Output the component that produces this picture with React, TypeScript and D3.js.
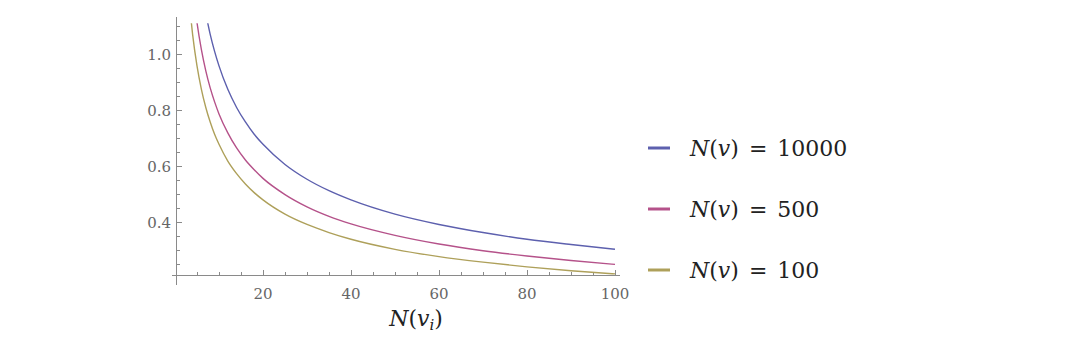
import React from 'react'
import * as d3 from 'd3'

// values, per curve: [N(v_i), value]
const seriesLabels = ['10000', '500', '100']
const seriesColors = ['#5d60ae', '#b5528a', '#aea05a']

const n10000 = [[7, 1.147], [8, 1.073], [9, 1.012], [10, 0.96], [12, 0.876], [14, 0.811], [16, 0.759], [18, 0.715], [20, 0.679], [25, 0.607], [30, 0.554], [35, 0.513], [40, 0.48], [50, 0.429], [60, 0.392], [70, 0.363], [80, 0.339], [90, 0.32], [100, 0.303]]
const n500 = [[4.5, 1.175], [5, 1.115], [6, 1.018], [7, 0.942], [8, 0.881], [9, 0.831], [10, 0.788], [12, 0.72], [14, 0.666], [16, 0.623], [18, 0.588], [20, 0.557], [25, 0.499], [30, 0.455], [35, 0.421], [40, 0.394], [50, 0.353], [60, 0.322], [70, 0.298], [80, 0.279], [90, 0.263], [100, 0.249]]
const n100 = [[3.5, 1.147], [4, 1.073], [5, 0.96], [6, 0.876], [7, 0.811], [8, 0.759], [9, 0.715], [10, 0.679], [12, 0.619], [14, 0.574], [16, 0.537], [18, 0.506], [20, 0.48], [25, 0.429], [30, 0.392], [35, 0.363], [40, 0.339], [50, 0.303], [60, 0.277], [70, 0.257], [80, 0.24], [90, 0.226], [100, 0.215]]
const series = [n10000, n500, n100]

const xTicks = [20, 40, 60, 80, 100]
const yTicks = [0.4, 0.6, 0.8, 1.0]

const W = 1080
const H = 351

export default function App() {
  const x = d3.scaleLinear().domain([0, 100]).range([175, 615])
  const y = d3.scaleLinear().domain([0.211, 1.135]).range([275, 17])

  const line = d3.line<number[]>()
    .x(d => x(d[0]))
    .y(d => y(d[1]))
    .curve(d3.curveMonotoneX)

  const xMinor = d3.range(5, 101, 5).filter(v => v % 20 !== 0)
  const yMinor = d3.range(0.25, 1.13, 0.05).filter(v => Math.abs(v * 5 - Math.round(v * 5)) > 1e-6)

  const axisX = x(0.45)
  const axisY = y(0.211)
  const tickColor = '#8a8a8a'
  const labelColor = '#666'
  const mathFont = '"DejaVu Serif", serif'

  const legendX = 648
  const legendY = [148, 209, 270]

  return (
    <div>
      <style>{'body{margin:0}'}</style>
      <svg width={W} height={H} style={{ display: 'block', background: '#fff' }}>
        <defs>
          <clipPath id="plotClip">
            <rect x={axisX} y={y(1.113)} width={x(100.5) - axisX} height={axisY - y(1.113) + 2} />
          </clipPath>
        </defs>

        {/* axes */}
        <g stroke={tickColor} strokeWidth={1} shapeRendering="crispEdges">
          <line x1={172} x2={620} y1={axisY} y2={axisY} />
          <line x1={axisX} x2={axisX} y1={17} y2={285} />
          {xTicks.map(t => <line key={t} x1={x(t)} x2={x(t)} y1={axisY} y2={axisY - 5} />)}
          {xMinor.map(t => <line key={t} x1={x(t)} x2={x(t)} y1={axisY} y2={axisY - 3} />)}
          {yTicks.map(t => <line key={t} x1={axisX} x2={axisX + 5} y1={y(t)} y2={y(t)} />)}
          {yMinor.map(t => <line key={t} x1={axisX} x2={axisX + 3} y1={y(t)} y2={y(t)} />)}
        </g>

        <g fill={labelColor} fontFamily='"DejaVu Serif", serif' fontSize={15}>
          {xTicks.map(t => (
            <text key={t} x={x(t)} y={299} textAnchor="middle">{t}</text>
          ))}
          {yTicks.map(t => (
            <text key={t} x={171} y={y(t) + 5.5} textAnchor="end">{d3.format('.1f')(t)}</text>
          ))}
        </g>

        {/* curves */}
        <g clipPath="url(#plotClip)" fill="none" strokeWidth={1.4}>
          {series.map((s, i) => (
            <path key={i} d={line(s) || ''} stroke={seriesColors[i]} />
          ))}
        </g>

        {/* x axis title */}
        <text x={416} y={326} textAnchor="middle" fontFamily={mathFont} fontSize={22} fill="#222">
          <tspan fontStyle="italic">N</tspan>
          <tspan>(</tspan>
          <tspan fontStyle="italic">v</tspan>
          <tspan fontStyle="italic" fontSize={15} dy={4}>i</tspan>
          <tspan dy={-4}>)</tspan>
        </text>

        {/* legend */}
        {seriesLabels.map((lab, i) => (
          <g key={lab}>
            <line x1={legendX} x2={legendX + 22} y1={legendY[i]} y2={legendY[i]} stroke={seriesColors[i]} strokeWidth={3} />
            <text x={690} y={legendY[i] + 8} fontFamily={mathFont} fontSize={22} fill="#222">
              <tspan fontStyle="italic">N</tspan>
              <tspan>(</tspan>
              <tspan fontStyle="italic">v</tspan>
              <tspan>)</tspan>
              <tspan dx={10}>=</tspan>
              <tspan dx={10}>{lab}</tspan>
            </text>
          </g>
        ))}
      </svg>
    </div>
  )
}
